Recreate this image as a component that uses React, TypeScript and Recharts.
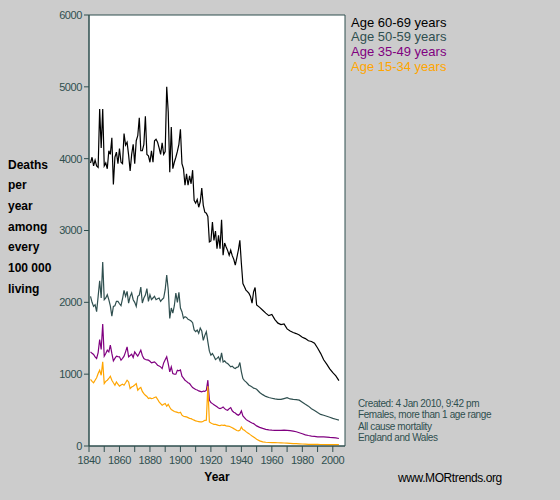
import React from 'react'
import { LineChart, Line, XAxis, YAxis, CartesianGrid, ReferenceArea } from 'recharts'

// years: annual to 1950, then every other year
const years = [
  1841, 1842, 1843, 1844, 1845, 1846, 1847, 1848, 1849, 1850,
  1851, 1852, 1853, 1854, 1855, 1856, 1857, 1858, 1859, 1860,
  1861, 1862, 1863, 1864, 1865, 1866, 1867, 1868, 1869, 1870,
  1871, 1872, 1873, 1874, 1875, 1876, 1877, 1878, 1879, 1880,
  1881, 1882, 1883, 1884, 1885, 1886, 1887, 1888, 1889, 1890,
  1891, 1892, 1893, 1894, 1895, 1896, 1897, 1898, 1899, 1900,
  1901, 1902, 1903, 1904, 1905, 1906, 1907, 1908, 1909, 1910,
  1911, 1912, 1913, 1914, 1915, 1916, 1917, 1918, 1919, 1920,
  1921, 1922, 1923, 1924, 1925, 1926, 1927, 1928, 1929, 1930,
  1931, 1932, 1933, 1934, 1935, 1936, 1937, 1938, 1939, 1940,
  1941, 1942, 1943, 1944, 1945, 1946, 1947, 1948, 1949, 1950,
  1952, 1954, 1956, 1958, 1960, 1962, 1964, 1966, 1968, 1970,
  1972, 1974, 1976, 1978, 1980, 1982, 1984, 1986, 1988, 1990,
  1992, 1994, 1996, 1998, 2000, 2002, 2004,
]

const age6069 = [
  3940, 4020, 3900, 3980, 3900, 3880, 4690, 4150, 4690, 3900,
  3940, 3860, 4110, 4060, 4290, 3640, 4020, 4090, 3930, 4140,
  3950, 3930, 4350, 4190, 4230, 4050, 3830, 4060, 4200, 3930,
  4250, 4320, 4570, 4110, 4110, 4200, 4590, 4060, 4040, 3950,
  4110, 3950, 4250, 4270, 4230, 4150, 4060, 4220, 4060, 4100,
  5000, 4650, 3810, 4440, 3860, 3950, 4020, 4100, 4200, 4410,
  3930, 3860, 3630, 3790, 3630, 3760, 3650, 3840, 3420, 3380,
  3430, 3324, 3400, 3592, 3350, 3255, 3241, 3195, 2840, 2854,
  3117, 2863, 2993, 2748, 2932, 2748, 3150, 2655, 2826, 2771,
  2720, 2655, 2725, 2650, 2600, 2517, 2620, 2725, 2863, 2540,
  2262, 2216, 2170, 2150, 2124, 2080, 1990, 2147, 2207, 1963,
  1930, 1890, 1850, 1815, 1830, 1760, 1710, 1690, 1700, 1630,
  1600, 1580, 1565, 1545, 1515, 1495, 1465, 1455, 1430, 1365,
  1290, 1200, 1140, 1075, 1020, 975, 910,
]

const age5059 = [
  2083, 2000, 1944, 1967, 1870, 2083, 2300, 2060, 2560, 2037,
  2060, 2106, 2037, 1950, 1809, 1944, 1953, 2013, 2013, 1980,
  1953, 2050, 2167, 2083, 2153, 1990, 2083, 2130, 2037, 2000,
  1944, 2083, 2100, 2213, 1990, 2060, 2100, 2190, 2013, 2106,
  2037, 2060, 2083, 2037, 2050, 2060, 2013, 2040, 2060, 2176,
  2381, 2176, 1777, 1921, 1851, 1953, 2130, 2000, 2139, 1921,
  1870, 1777, 1800, 1790, 1763, 1754, 1740, 1717, 1615, 1592,
  1615, 1568, 1640, 1600, 1470, 1540, 1590, 1450, 1320, 1264,
  1287, 1250, 1204, 1220, 1241, 1185, 1297, 1171, 1185, 1160,
  1148, 1125, 1102, 1111, 1090, 1078, 1095, 1102, 1162, 1032,
  939, 910, 893, 870, 846, 835, 823, 805, 800, 790,
  745, 715, 690, 675, 665, 655, 650, 648, 660, 672,
  655, 648, 645, 638, 610, 580, 555, 520, 495, 465,
  440, 428, 414, 400, 385, 372, 360,
]

const age3549 = [
  1311, 1290, 1274, 1240, 1218, 1300, 1483, 1343, 1697, 1250,
  1288, 1334, 1310, 1404, 1288, 1185, 1220, 1250, 1245, 1241,
  1195, 1220, 1250, 1311, 1380, 1241, 1260, 1278, 1232, 1311,
  1280, 1250, 1290, 1334, 1260, 1218, 1204, 1200, 1195, 1180,
  1157, 1165, 1171, 1150, 1125, 1115, 1102, 1078, 1157, 1200,
  1241, 1148, 1032, 1102, 1008, 1000, 999, 1055, 1046, 1060,
  971, 945, 916, 900, 880, 869, 840, 814, 800, 786,
  780, 767, 760, 753, 765, 760, 776, 916, 640, 605,
  590, 575, 560, 545, 530, 521, 530, 544, 520, 505,
  498, 520, 535, 490, 470, 460, 440, 428, 445, 488,
  420, 395, 370, 355, 345, 330, 320, 312, 295, 280,
  260, 245, 232, 225, 220, 218, 218, 218, 220, 218,
  214, 208, 198, 185, 170, 155, 146, 138, 133, 128,
  126, 126, 124, 120, 117, 112, 104,
]

const age1534 = [
  926, 900, 880, 916, 950, 1008, 1055, 985, 1171, 869,
  900, 916, 940, 971, 916, 880, 846, 892, 860, 832,
  850, 860, 846, 880, 916, 892, 800, 820, 832, 850,
  869, 776, 800, 814, 760, 730, 707, 690, 660, 670,
  660, 665, 675, 683, 650, 614, 590, 567, 580, 591,
  553, 581, 540, 507, 495, 480, 474, 468, 460, 470,
  430, 414, 410, 405, 395, 385, 381, 370, 360, 349,
  345, 340, 335, 335, 345, 358, 360, 830, 335, 320,
  310, 302, 300, 295, 288, 285, 292, 288, 290, 280,
  278, 274, 265, 255, 242, 230, 215, 210, 220, 265,
  230, 219, 200, 185, 172, 155, 140, 126, 110, 95,
  72, 58, 52, 49, 47, 46, 45, 44, 42, 40,
  37, 34, 32, 30, 28, 26, 24, 23, 23, 22,
  21, 21, 20, 20, 19, 19, 19,
]

const xTicks = [1840, 1850, 1860, 1870, 1880, 1890, 1900, 1910, 1920, 1930, 1940, 1950, 1960, 1970, 1980, 1990, 2000]
const yTicks = [0, 1000, 2000, 3000, 4000, 5000, 6000]

const yLabelLines = ['Deaths', 'per', 'year', 'among', 'every', '100 000', 'living']
const legendItems = [
  { label: 'Age 60-69 years', color: '#000000' },
  { label: 'Age 50-59 years', color: '#2f4f4f' },
  { label: 'Age 35-49 years', color: '#800080' },
  { label: 'Age 15-34 years', color: '#ffa500' },
]
const noteLines = ['Created: 4 Jan 2010, 9:42 pm', 'Females, more than 1 age range', 'All cause mortality', 'England and Wales']

const data = years.map((year, i) => ({
  year,
  a6069: age6069[i],
  a5059: age5059[i],
  a3549: age3549[i],
  a1534: age1534[i],
}))

const FONT = 'Arial, "Liberation Sans", sans-serif'
const AXIS = '#2f4f4f'
const tickStyle = { fontSize: 11, fill: AXIS, fontFamily: FONT, letterSpacing: -0.4 }

export default function App() {
  return (
    <div style={{ position: 'absolute', left: 0, top: 0, width: 560, height: 500, background: '#cccccc', fontFamily: FONT }}>
      <LineChart width={560} height={500} data={data} margin={{ top: 15, right: 215, bottom: 24, left: 49 }}>
        <CartesianGrid fill="#ffffff" horizontal={false} vertical={false} />
        <XAxis
          dataKey="year"
          type="number"
          domain={[1840, 2008]}
          ticks={xTicks}
          interval={0}
          tickFormatter={(v) => (v % 20 === 0 ? String(v) : '')}
          tick={tickStyle}
          tickSize={6}
          tickMargin={4}
          height={30}
          stroke={AXIS}
        />
        <YAxis
          domain={[0, 6000]}
          ticks={yTicks}
          interval={0}
          tick={tickStyle}
          tickSize={5}
          tickMargin={2}
          width={40}
          stroke={AXIS}
        />
        <ReferenceArea x1={1840} x2={2008} y1={0} y2={6000} fill="none" stroke={AXIS} strokeWidth={1} />
        <Line dataKey="a6069" type="linear" stroke="#000000" strokeWidth={1.2} dot={false} isAnimationActive={false} />
        <Line dataKey="a5059" type="linear" stroke="#2f4f4f" strokeWidth={1.2} dot={false} isAnimationActive={false} />
        <Line dataKey="a3549" type="linear" stroke="#800080" strokeWidth={1.2} dot={false} isAnimationActive={false} />
        <Line dataKey="a1534" type="linear" stroke="#ffa500" strokeWidth={1.2} dot={false} isAnimationActive={false} />
      </LineChart>

      <div style={{ position: 'absolute', left: 8, top: 154.6, fontSize: 12, fontWeight: 'bold', lineHeight: '20.7px', color: '#000' }}>
        {yLabelLines.map((t) => (
          <div key={t}>{t}</div>
        ))}
      </div>

      <div style={{ position: 'absolute', left: 351, top: 15.6, fontSize: 13, lineHeight: '14.7px', whiteSpace: 'nowrap' }}>
        {legendItems.map((it) => (
          <div key={it.label} style={{ color: it.color }}>{it.label}</div>
        ))}
      </div>

      <div style={{ position: 'absolute', left: 202, top: 470, width: 30, textAlign: 'center', fontSize: 12, fontWeight: 'bold', color: '#000' }}>
        Year
      </div>

      <div style={{ position: 'absolute', left: 358, top: 397.5, fontSize: 10, letterSpacing: -0.4, lineHeight: '11.6px', color: AXIS, whiteSpace: 'nowrap' }}>
        {noteLines.map((t) => (
          <div key={t}>{t}</div>
        ))}
      </div>

      <div style={{ position: 'absolute', left: 398, top: 471, fontSize: 12, letterSpacing: -0.4, color: '#000', whiteSpace: 'nowrap' }}>
        www.MORtrends.org
      </div>
    </div>
  )
}
